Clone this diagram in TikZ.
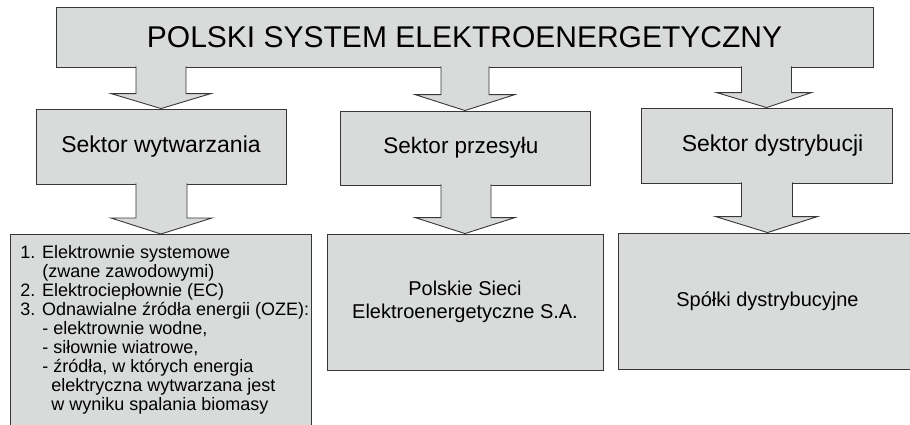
\documentclass[tikz,border=0pt]{standalone}
\usepackage{fontspec}
\setmainfont{Liberation Sans}
\usetikzlibrary{calc}
\definecolor{boxgray}{RGB}{217,219,219}
\definecolor{edgegray}{RGB}{55,55,55}
\tikzset{>=latex}
\tikzset{
  sysbox/.style={draw=edgegray, fill=boxgray, line width=0.9pt, rectangle, inner sep=0pt, align=center},
  blockarrow/.style={draw=edgegray, fill=boxgray, line width=0.9pt, line join=miter}
}

\begin{document}
\begin{tikzpicture}[x=1pt, y=-1pt]
      \clip (0,0) rectangle (910,424);
      \node[sysbox, minimum width=817pt, minimum height=60pt, font=\fontsize{30}{36}\selectfont] (top) at (464.5,37) {POLSKI SYSTEM ELEKTROENERGETYCZNY};
      \node[sysbox, minimum width=250pt, minimum height=75pt, font=\fontsize{23}{28}\selectfont] (s1) at (161,146.5) {Sektor wytwarzania};
      \node[sysbox, minimum width=250pt, minimum height=74pt, font=\fontsize{22.5}{28}\selectfont] (s2) at (465,148) {Sektor przesyłu\hspace*{8pt}};
      \node[sysbox, minimum width=251pt, minimum height=75pt, font=\fontsize{23}{28}\selectfont] (s3) at (766.5,145.5) {\hspace*{12pt}Sektor dystrybucji};
      \node[sysbox, anchor=north west, inner xsep=10pt, inner ysep=11pt, align=left] (b1) at (10,234) {\parbox[b][200pt][t]{281pt}{\raggedright\fontsize{18}{19}\selectfont
        1. Elektrownie systemowe\\
        \hspace*{22pt}(zwane zawodowymi)\\
        2. Elektrociepłownie (EC)\\
        \mbox{3. Odnawialne źródła energii (OZE):}\\
        \hspace*{22pt}- elektrownie wodne,\\
        \hspace*{22pt}- siłownie wiatrowe,\\
        \hspace*{22pt}- źródła, w których energia\\
        \hspace*{31pt}elektryczna wytwarzana jest\\
        \hspace*{31pt}w wyniku spalania biomasy}};
      \node[sysbox, minimum width=276pt, minimum height=136pt, font=\fontsize{20}{23}\selectfont] (b2) at (465,302) {Polskie Sieci\\ Elektroenergetyczne S.A.};
      \node[sysbox, minimum width=299pt, minimum height=136pt, font=\fontsize{20}{24}\selectfont] (b3) at (767.5,301) {Spółki dystrybucyjne};
      % arrows from the system to the sectors
      \draw[blockarrow] ($(s1.north |- top.south)+(-25,-1)$) -- ($(s1.north)+(-25,-15)$) -- ++(-25,0) -- (s1.north) -- ($(s1.north)+(50,-15)$) -- ++(-25,0) -- ($(s1.north |- top.south)+(25,-1)$);
      \draw[blockarrow] ($(s2.north |- top.south)+(-24,-1)$) -- ($(s2.north)+(-24,-16)$) -- ++(-26,0) -- (s2.north) -- ($(s2.north)+(50,-16)$) -- ++(-26,0) -- ($(s2.north |- top.south)+(24,-1)$);
      \draw[blockarrow] ($(s3.north |- top.south)+(-25,-1)$) -- ($(s3.north)+(-25,-15)$) -- ++(-25,0) -- (s3.north) -- ($(s3.north)+(45,-15)$) -- ++(-20,0) -- ($(s3.north |- top.south)+(25,-1)$);
      % arrows from the sectors to the bottom boxes
      \draw[blockarrow] ($(b1.north |- s1.south)+(-25,-1)$) -- ($(b1.north)+(-25,-16)$) -- ++(-25,0) -- (b1.north) -- ($(b1.north)+(51,-16)$) -- ++(-25,0) -- ($(b1.north |- s1.south)+(26,-1)$);
      \draw[blockarrow] ($(b2.north |- s2.south)+(-24,-1)$) -- ($(b2.north)+(-24,-16)$) -- ++(-26,0) -- (b2.north) -- ($(b2.north)+(50,-16)$) -- ++(-24,0) -- ($(b2.north |- s2.south)+(26,-1)$);
      \draw[blockarrow] ($(b3.north |- s3.south)+(-26,-1)$) -- ($(b3.north)+(-26,-16)$) -- ++(-26,0) -- (b3.north) -- ($(b3.north)+(50,-16)$) -- ++(-25,0) -- ($(b3.north |- s3.south)+(25,-1)$);
    \end{tikzpicture}
\end{document}
